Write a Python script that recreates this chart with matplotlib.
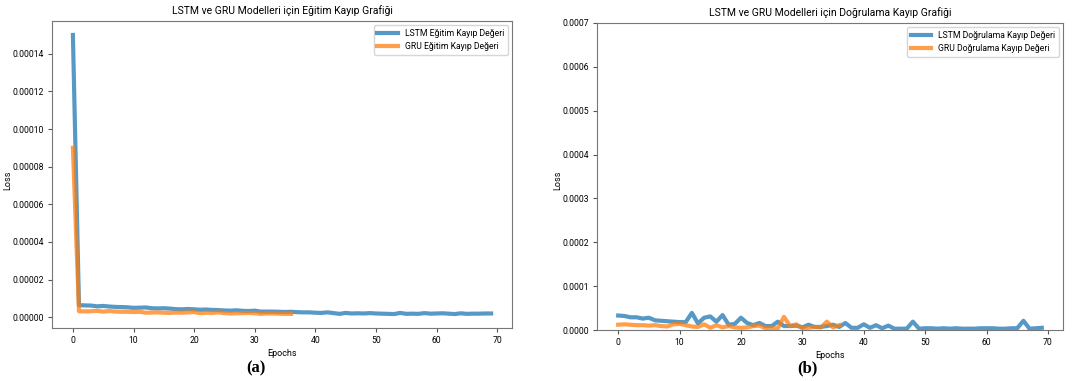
import matplotlib
matplotlib.use("Agg")
import matplotlib.pyplot as plt
import numpy as np

lstm_train = [1.50e-4, 6.4e-6, 6.3e-6, 6.2e-6, 5.8e-6, 6.0e-6, 5.7e-6, 5.5e-6, 5.4e-6, 5.3e-6,
              5.0e-6, 5.1e-6, 5.2e-6, 4.8e-6, 4.7e-6, 4.8e-6, 4.6e-6, 4.3e-6, 4.2e-6, 4.4e-6,
              4.2e-6, 4.0e-6, 4.1e-6, 3.9e-6, 3.8e-6, 3.6e-6, 3.5e-6, 3.7e-6, 3.4e-6, 3.3e-6,
              3.5e-6, 3.0e-6, 3.0e-6, 3.0e-6, 2.9e-6, 2.8e-6, 2.9e-6, 2.7e-6, 2.6e-6, 2.6e-6,
              2.4e-6, 2.3e-6, 2.6e-6, 2.2e-6, 1.8e-6, 2.3e-6, 2.0e-6, 2.1e-6, 2.0e-6, 2.2e-6,
              2.0e-6, 1.9e-6, 1.8e-6, 1.7e-6, 2.3e-6, 1.8e-6, 1.9e-6, 1.8e-6, 2.2e-6, 1.9e-6,
              2.0e-6, 2.1e-6, 1.9e-6, 1.7e-6, 2.1e-6, 1.8e-6, 1.9e-6, 1.9e-6, 2.0e-6, 2.0e-6]
gru_train = [9.0e-5, 3.2e-6, 3.1e-6, 3.2e-6, 3.4e-6, 3.0e-6, 3.3e-6, 3.0e-6, 2.9e-6, 2.9e-6,
             2.8e-6, 2.9e-6, 2.4e-6, 2.5e-6, 2.6e-6, 2.4e-6, 2.3e-6, 2.5e-6, 2.4e-6, 2.6e-6,
             2.7e-6, 2.2e-6, 2.4e-6, 2.3e-6, 2.6e-6, 2.2e-6, 2.0e-6, 2.1e-6, 2.2e-6, 2.3e-6,
             2.1e-6, 1.8e-6, 2.0e-6, 2.0e-6, 1.9e-6, 1.8e-6, 1.8e-6]

lstm_val = [3.3e-5, 3.2e-5, 2.9e-5, 2.9e-5, 2.6e-5, 2.8e-5, 2.2e-5, 2.1e-5, 2.0e-5, 1.9e-5,
            1.8e-5, 1.8e-5, 3.9e-5, 1.5e-5, 2.8e-5, 3.1e-5, 1.9e-5, 3.4e-5, 1.2e-5, 1.4e-5,
            2.8e-5, 1.6e-5, 1.1e-5, 1.6e-5, 0.9e-5, 0.9e-5, 1.9e-5, 0.9e-5, 0.9e-5, 1.0e-5,
            0.6e-5, 1.2e-5, 0.7e-5, 0.7e-5, 0.9e-5, 1.2e-5, 0.7e-5, 1.6e-5, 0.5e-5, 0.5e-5,
            1.3e-5, 0.5e-5, 1.1e-5, 0.4e-5, 1.0e-5, 0.3e-5, 0.3e-5, 0.3e-5, 1.9e-5, 0.3e-5,
            0.4e-5, 0.4e-5, 0.3e-5, 0.4e-5, 0.3e-5, 0.4e-5, 0.3e-5, 0.3e-5, 0.3e-5, 0.4e-5,
            0.4e-5, 0.4e-5, 0.3e-5, 0.3e-5, 0.4e-5, 0.4e-5, 2.1e-5, 0.3e-5, 0.4e-5, 0.5e-5]
gru_val = [1.2e-5, 1.3e-5, 1.2e-5, 1.1e-5, 1.1e-5, 1.0e-5, 1.1e-5, 0.9e-5, 0.8e-5, 1.3e-5,
           1.4e-5, 1.1e-5, 0.8e-5, 0.7e-5, 1.3e-5, 0.5e-5, 1.1e-5, 0.6e-5, 0.9e-5, 0.6e-5,
           0.5e-5, 0.6e-5, 0.9e-5, 1.0e-5, 0.4e-5, 0.4e-5, 0.4e-5, 3.0e-5, 0.9e-5, 1.3e-5,
           0.4e-5, 0.5e-5, 0.7e-5, 0.6e-5, 1.9e-5, 0.6e-5, 1.1e-5]

titles = ["LSTM ve GRU Modelleri için Eğitim Kayıp Grafiği",
          "LSTM ve GRU Modelleri için Doğrulama Kayıp Grafiği"]
legend_a = ["LSTM Eğitim Kayıp Değeri", "GRU Eğitim Kayıp Değeri"]
legend_b = ["LSTM Doğrulama Kayıp Değeri", "GRU Doğrulama Kayıp Değeri"]

plt.rcParams['font.family'] = ['Roboto', 'DejaVu Sans']

fig = plt.figure(figsize=(10.72, 3.81), dpi=100)
ax1 = fig.add_axes([52/1072, 1 - 328/381, 460/1072, 307/381])
ax2 = fig.add_axes([597/1072, 1 - 330/381, 466/1072, 307/381])

lw = 3
a = 0.75
ax1.plot(np.arange(len(lstm_train)), lstm_train, color='tab:blue', lw=lw, alpha=a, label=legend_a[0])
ax1.plot(np.arange(len(gru_train)), gru_train, color='tab:orange', lw=lw, alpha=a, label=legend_a[1])
ax2.plot(np.arange(len(lstm_val)), lstm_val, color='tab:blue', lw=lw, alpha=a, label=legend_b[0])
ax2.plot(np.arange(len(gru_val)), gru_val, color='tab:orange', lw=lw, alpha=a, label=legend_b[1])
ax2.set_ylim(0, 0.0007)
ax1.set_yticks(np.arange(0, 0.000141, 0.00002))
ax1.yaxis.set_major_formatter(matplotlib.ticker.FormatStrFormatter('%.5f'))
ax2.yaxis.set_major_formatter(matplotlib.ticker.FormatStrFormatter('%.4f'))

for ax, t, lx in zip([ax1, ax2], titles, [12, 562]):
    ax.set_title(t, fontsize=7.5, pad=5)
    ax.set_xlabel("Epochs", fontsize=6.5, labelpad=3)
    ax.set_ylabel("Loss", fontsize=6.5)
    ax.yaxis.set_label_coords(lx/1072, 1 - 180/381, transform=fig.transFigure)
    ax.tick_params(labelsize=6.2, length=3, color='#555555', pad=2.5)
    for s in ax.spines.values():
        s.set_color('#777777')
    ax.legend(loc='upper right', fontsize=6.2, handlelength=2.4, framealpha=0.8)

fig.text(256/1072, 1 - 368/381, "(a)", family='Liberation Serif', weight='bold', fontsize=12, ha='center', va='center')
fig.text(807/1072, 1 - 368/381, "(b)", family='Liberation Serif', weight='bold', fontsize=12, ha='center', va='center')

fig.savefig("out.png", dpi=100)
